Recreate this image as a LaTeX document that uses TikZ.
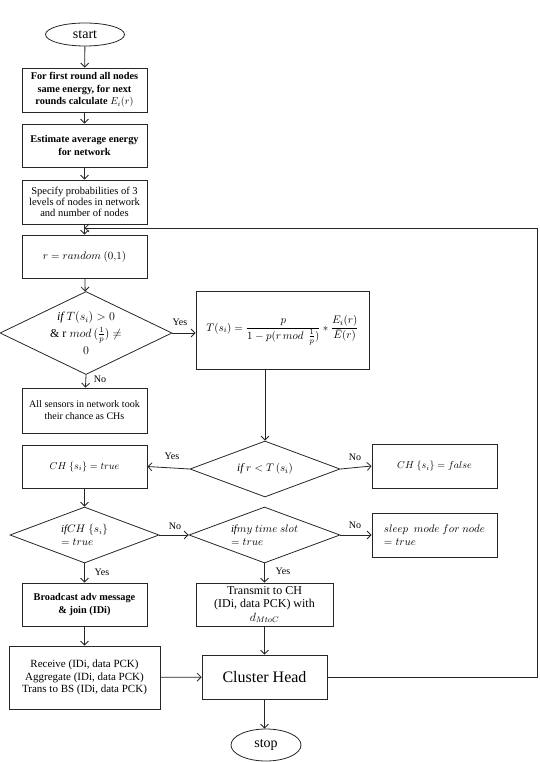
\documentclass[tikz,border=0pt]{standalone}
\usepackage{amsmath}
\usepackage{fontspec}
\setmainfont{Liberation Serif}
\usetikzlibrary{shapes.geometric,arrows.meta,calc}
\begin{document}
\begin{tikzpicture}[x=1pt,y=-1pt,
  line width=0.8pt, draw=black!85,
  arr/.style={-{Straight Barb[length=4pt,width=8pt]}},
  box/.style={draw, rectangle, align=center, inner sep=1pt, font=\fontsize{10.5}{11}\selectfont},
  bbox/.style={box, font=\fontsize{10.3}{12.5}\selectfont\bfseries},
  dia/.style={draw, diamond, align=center, inner sep=0pt, font=\fontsize{11}{13}\selectfont},
  term/.style={draw, ellipse, inner sep=0pt, font=\fontsize{14}{16}\selectfont},
  lab/.style={font=\fontsize{10}{12}\selectfont, inner sep=1pt}
]
\useasboundingbox (0,0) rectangle (540,762);

\node[term, minimum width=79pt, minimum height=23pt] (start) at (85,34.5) {start};
\node[bbox, minimum width=125pt, minimum height=44pt] (b1) at (84.5,90)
  {For first round all nodes\\ same energy, for next\\ rounds calculate $E_i(r)$};
\node[bbox, minimum width=125pt, minimum height=43pt] (b2) at (84.5,145.5)
  {Estimate  average energy\\ for network};
\node[box, minimum width=125pt, minimum height=44pt] (b3) at (84.5,202)
  {Specify probabilities of 3\\ levels of nodes in network\\ and number of nodes};
\node[box, minimum width=125pt, minimum height=43pt, font=\fontsize{11}{13}\selectfont] (b4) at (84.5,256.5)
  {$r = random\ (0{,}1)$};
\node[dia, minimum width=172pt, minimum height=83pt, aspect=2.07, font=\fontsize{12}{17}\selectfont] (d1) at (86,333)
  {$\mathit{if}\ T(s_i) > 0$\\ \& r $mod\,(\tfrac{1}{p}) \neq$\\ $0$};
\node[box, minimum width=173pt, minimum height=78pt, font=\fontsize{11}{13}\selectfont] (tb) at (282.5,330)
  {$T(s_i) = \dfrac{p}{1 - p(r\,mod\;\,\frac{1}{p})} * \dfrac{E_i(r)}{\bar{E}(r)}$};
\node[box, minimum width=125pt, minimum height=45pt, font=\fontsize{10}{12}\selectfont] (b5) at (84.5,410.5)
  {All sensors in network took\\ their chance as CHs};
\node[dia, minimum width=150pt, minimum height=56pt, aspect=2.68, font=\fontsize{11.3}{13}\selectfont] (d2) at (265,469)
  {$\mathit{if}\ r < T\,(s_i)$};
\node[box, minimum width=125pt, minimum height=43pt, font=\fontsize{10}{12}\selectfont] (cht) at (84.5,466.5)
  {$CH\ \{s_i\} = true$};
\node[box, minimum width=125pt, minimum height=44pt, font=\fontsize{9.8}{12}\selectfont] (chf) at (434.5,466)
  {$CH\ \{s_i\} = false$};
\node[dia, minimum width=149pt, minimum height=56pt, aspect=2.66, align=left, font=\fontsize{10.7}{13}\selectfont] (d3) at (84.5,535)
  {$\mathit{if}CH\ \{s_i\}$\\ $= true$};
\node[dia, minimum width=151pt, minimum height=56pt, aspect=2.7, align=left, font=\fontsize{10.7}{13}\selectfont] (d4) at (264.5,535)
  {$\mathit{if}my\ time\ slot$\\ $= true$};
\node[box, minimum width=125pt, minimum height=44pt, align=left, font=\fontsize{11.3}{13}\selectfont] (sl) at (434.5,535)
  {$sleep\ \ mode\ for\ node$\\ $= true$};
\node[bbox, minimum width=125pt, minimum height=43pt] (bc) at (84.5,604.5)
  {Broadcast adv message\\ \& join (IDi)};
\node[box, minimum width=137pt, minimum height=43pt, font=\fontsize{12}{13.5}\selectfont] (tr) at (264.5,604.5)
  {Transmit to CH\\ (IDi,  data PCK) with\\ $d_{MtoC}$};
\node[box, minimum width=151pt, minimum height=63pt, font=\fontsize{11}{12.5}\selectfont] (rc) at (84.5,677.5)
  {Receive (IDi,  data PCK)\\ Aggregate (IDi,  data PCK)\\ Trans to BS (IDi,  data PCK)};
\node[box, minimum width=125pt, minimum height=44pt, font=\fontsize{16}{18}\selectfont] (ch) at (264.5,677)
  {Cluster Head};
\node[term, minimum width=70pt, minimum height=32pt] (stop) at (266,745) {stop};

\coordinate (fbtop) at (537,228);
\coordinate (fbright) at (537,677);
\coordinate (fbend) at (84.5,228);

\draw[arr] (start) -- (b1);
\draw[arr] (b1) -- (b2);
\draw[arr] (b2) -- (b3);
\draw[arr] (b3) -- (b4);
\draw[arr] (ch.east) -- (fbright) -- (fbtop) -- (fbend);
\draw[arr] (b4) -- (d1);
\draw[arr] (d1.east) -- (d1.east -| tb.west);
\node[lab] (yes1) at (180,322) {Yes};
\draw[arr] (d1.south) -- (b5);
\node[lab] (no1) at (100,379) {No};
\draw[arr] (d2.north |- tb.south) -- (d2.north);
\draw[arr] (d2.west) -- (cht.east);
\node[lab] (yes2) at (172,456) {Yes};
\draw[arr] (d2.east) -- (chf.west);
\node[lab] (no2) at (355,457) {No};
\draw[arr] (cht) -- (d3);
\draw[arr] (d3.east) -- (d4.west);
\node[lab] (no3) at (175,526) {No};
\draw[arr] (d4.east) -- (sl.west);
\node[lab] (no4) at (355,525) {No};
\draw[arr] (d3.south) -- (bc);
\node[lab] (yes3) at (102,572) {Yes};
\draw[arr] (d4.south) -- (tr);
\node[lab] (yes4) at (283,571) {Yes};
\draw[arr] (bc) -- (rc);
\draw[arr] (rc) -- (ch);
\draw[arr] (tr) -- (ch);
\draw[arr] (ch.south) -- (ch.south |- stop.north);
\end{tikzpicture}
\end{document}
